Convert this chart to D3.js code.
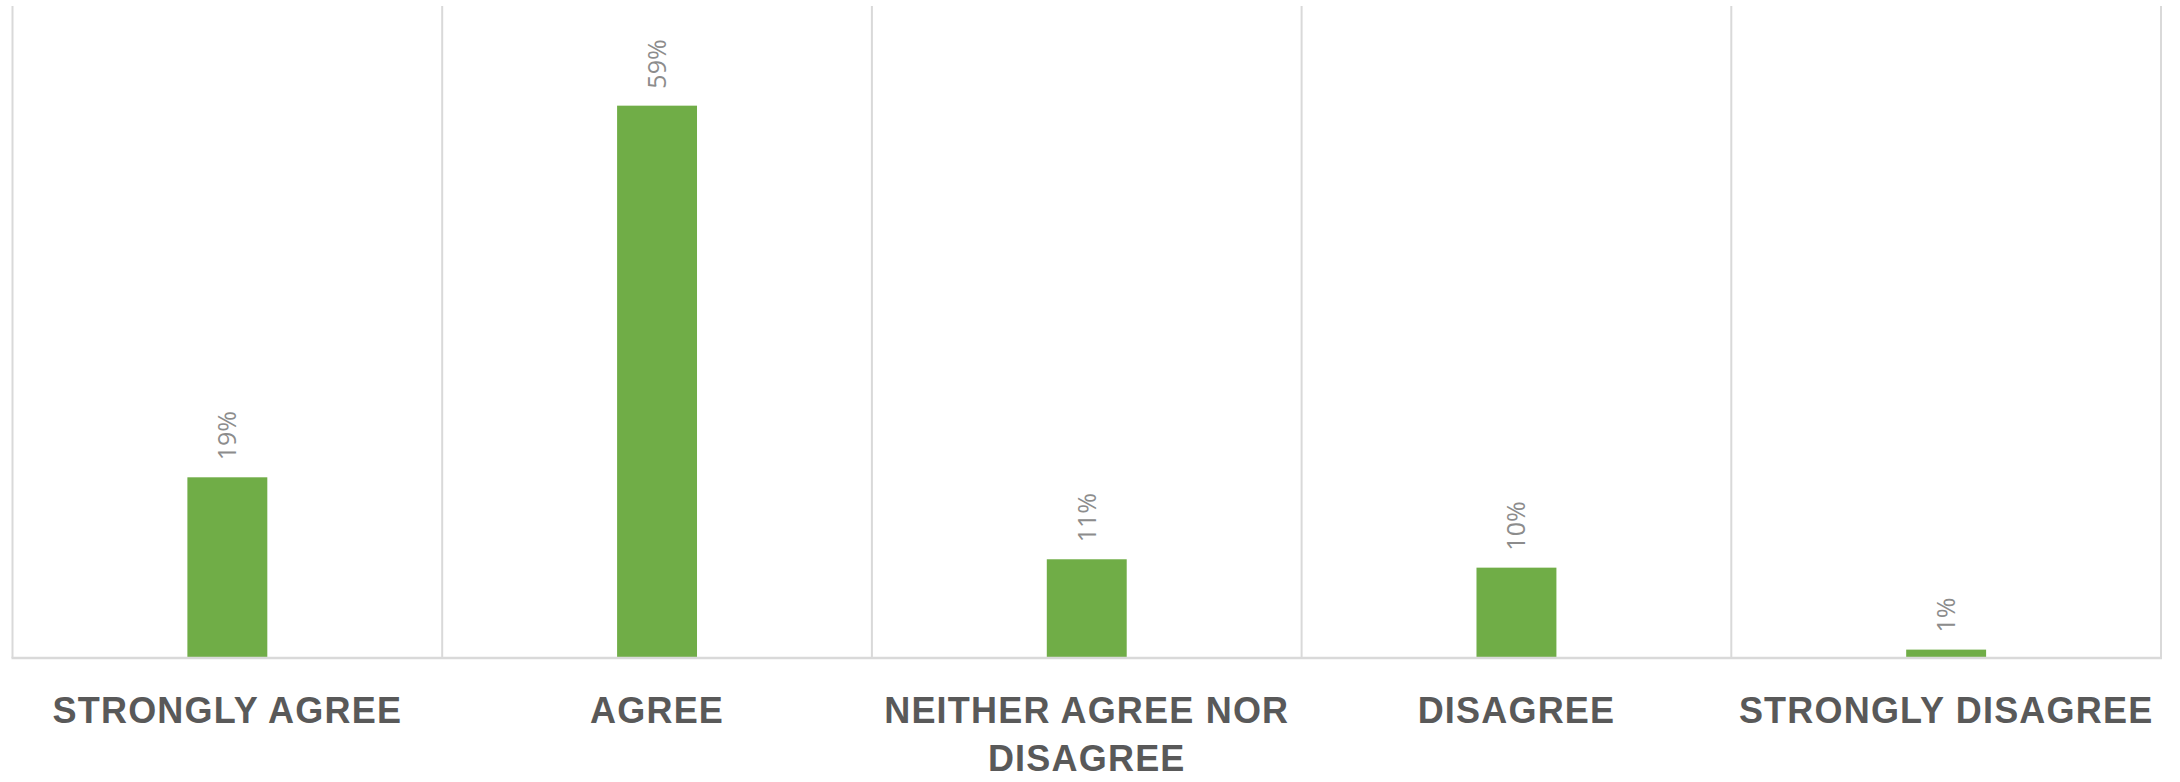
<!DOCTYPE html>
<html>
<head>
<meta charset="utf-8">
<script src="https://cdn.jsdelivr.net/npm/d3@7"></script>
<style>
  body { margin: 0; background: #fff; }
  .chart text { font-family: "Liberation Sans", Arial, sans-serif; }
</style>
</head>
<body>
<div class="chart"></div>
<script>
// chart data
var categories = ["STRONGLY AGREE", "AGREE", "NEITHER AGREE NOR DISAGREE", "DISAGREE", "STRONGLY DISAGREE"]
var values = [19.4, 59.3, 10.6, 9.7, 0.9]
var yMax = 70

var w = 2180
var h = 782
var plotLeft = 12.5, plotRight = 2161, plotTop = 6, plotBottom = 658

var svg = d3.select(".chart")
  .append("svg")
  .attr("width", w)
  .attr("height", h)

// one band per category (for separators) and a narrow band for the bars
var xCat = d3.scaleBand().domain(categories).range([plotLeft, plotRight]).padding(0)
var x = d3.scaleBand().domain(categories).range([plotLeft, plotRight])
  .paddingInner(0.814).paddingOuter(0.407)
var y = d3.scaleLinear().domain([0, yMax]).range([plotBottom, plotTop])

// vertical separators between categories
var seps = categories.map(function(c){ return xCat(c) }).concat([plotRight])
svg.selectAll("line.sep")
  .data(seps)
  .enter()
  .append("line")
  .attr("class", "sep")
  .attr("x1", function(d){ return d })
  .attr("x2", function(d){ return d })
  .attr("y1", plotTop)
  .attr("y2", plotBottom)
  .attr("stroke", "#d9d9d9")
  .attr("stroke-width", 2)

// bars
svg.selectAll("rect")
  .data(values)
  .enter()
  .append("rect")
  .attr("x", function(d, i){ return x(categories[i]) })
  .attr("y", function(d){ return y(d) })
  .attr("width", x.bandwidth())
  .attr("height", function(d){ return plotBottom - y(d) })
  .attr("fill", "#70ad47")

// baseline
svg.append("line")
  .attr("x1", plotLeft - 1)
  .attr("x2", plotRight + 1)
  .attr("y1", plotBottom)
  .attr("y2", plotBottom)
  .attr("stroke", "#d9d9d9")
  .attr("stroke-width", 2.5)

// value labels, rotated
svg.selectAll("text.val")
  .data(values)
  .enter()
  .append("text")
  .attr("class", "val")
  .attr("transform", function(d, i){
    var cx = x(categories[i]) + x.bandwidth() / 2
    return "translate(" + cx + "," + (y(d) - 17) + ") rotate(-90)"
  })
  .attr("dy", "0.36em")
  .attr("text-anchor", "start")
  .attr("fill", "#8c8c8c")
  .style("font-family", "'Open Sans', sans-serif")
  .style("font-size", "25px")
  .text(function(d){ return Math.round(d) + "%" })

// category labels, wrapped to the band width
var catText = svg.selectAll("text.cat")
  .data(categories)
  .enter()
  .append("text")
  .attr("class", "cat")
  .attr("x", function(d){ return xCat(d) + xCat.bandwidth() / 2 })
  .attr("y", 723)
  .attr("text-anchor", "middle")
  .attr("fill", "#595959")
  .style("font-weight", "bold")
  .style("font-size", "36px")
  .style("letter-spacing", "1.2px")

catText.each(function(d){
  var el = d3.select(this)
  var words = d.split(" ")
  var line = []
  var tspan = el.append("tspan").attr("x", el.attr("x")).attr("dy", 0)
  words.forEach(function(word){
    line.push(word)
    tspan.text(line.join(" "))
    if (tspan.node().getComputedTextLength() > xCat.bandwidth() && line.length > 1){
      line.pop()
      tspan.text(line.join(" "))
      line = [word]
      tspan = el.append("tspan").attr("x", el.attr("x")).attr("dy", 48).text(word)
    }
  })
})
</script>
</body>
</html>
